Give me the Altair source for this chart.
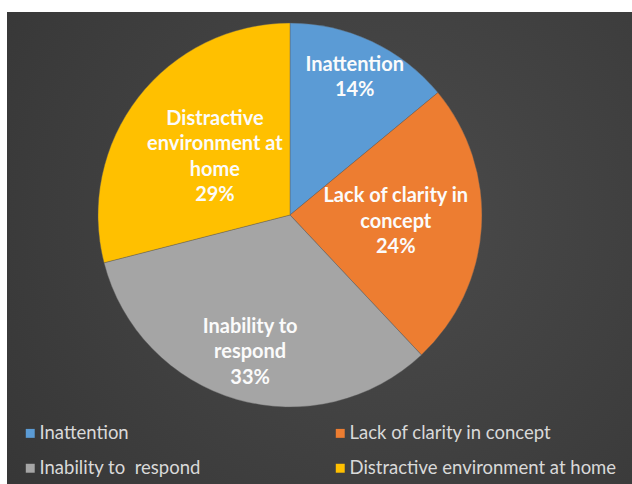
import altair as alt
import pandas as pd

categories = ["Inattention", "Lack of clarity in concept", "Inability to\u00a0 respond", "Distractive environment at home"]
values = [14, 24, 33, 29]
slice_labels = ["Inattention", "Lack of clarity in\nconcept", "Inability to\nrespond", "Distractive\nenvironment at\nhome"]
colors = ["#5B9BD5", "#ED7D31", "#A5A5A5", "#FFC000"]

df = pd.DataFrame({
    "category": categories,
    "value": values,
    "idx": list(range(len(categories))),
    "slabel": [f"{s}\n{v}%" for s, v in zip(slice_labels, values)],
})

# legend is filled column by column: reorder so rows read like the reference
legend_order = [0, 2, 1, 3]
leg_domain = [categories[i] for i in legend_order]
leg_range = [colors[i] for i in legend_order]

# label placement radius per slice (layout only)
label_r = [152, 106, 143, 95]
r_expr = " : ".join(f"datum.idx == {i} ? {r}" for i, r in enumerate(label_r)) + " : 120"

W, H = 625, 472
CX, CY = 283, 203
LH = 25.5

bg = alt.Chart(pd.DataFrame({"a": [0]})).mark_rect(
    fill=alt.Gradient(
        gradient="radial",
        stops=[alt.GradientStop(color="#4b4b4b", offset=0), alt.GradientStop(color="#353535", offset=1)],
        x1=0.6, y1=0.45, r1=0, x2=0.6, y2=0.45, r2=0.8,
    )
).encode(x=alt.value(0), x2=alt.value(W), y=alt.value(0), y2=alt.value(H))

pie = alt.Chart(df).mark_arc(outerRadius=192, stroke="#5a5a5a", strokeWidth=0.4).encode(
    theta=alt.Theta("value:Q", stack=True),
    order=alt.Order("idx:Q", sort="ascending"),
    x=alt.value(CX),
    y=alt.value(CY),
    color=alt.Color(
        "category:N",
        scale=alt.Scale(domain=leg_domain, range=leg_range),
        legend=alt.Legend(
            title=None,
            orient="none",
            legendX=14,
            legendY=412,
            columns=2,
            columnPadding=130,
            rowPadding=16,
            symbolType="square",
            symbolSize=80,
            symbolStrokeWidth=0,
            labelColor="#d9d9d9",
            labelFont="Lato",
            labelFontSize=18.5,
            labelOffset=0,
            labelLimit=400,
        ),
    ),
)

text = alt.Chart(df).transform_window(
    cum="sum(value)", sort=[alt.SortField("idx", order="ascending")]
).transform_joinaggregate(
    total="sum(value)"
).transform_calculate(
    ang="2 * PI * (datum.cum - datum.value / 2) / datum.total",
    lr=r_expr,
    nl="split(datum.slabel, '\\n').length",
).transform_calculate(
    px=f"{CX} + datum.lr * sin(datum.ang)",
    py=f"{CY} - datum.lr * cos(datum.ang) - (datum.nl - 1) * {LH} / 2",
).mark_text(
    lineBreak="\n", lineHeight=LH, align="center", baseline="middle",
    font="Lato", fontWeight="bold", fontSize=20, color="#fbfbfb",
).encode(
    x=alt.X("px:Q", scale=None),
    y=alt.Y("py:Q", scale=None),
    text="slabel:N",
)

chart = alt.layer(bg, pie, text).properties(
    width=W, height=H,
    autosize="none",
    padding={"left": 7, "top": 12, "right": 0, "bottom": 0},
    background="white",
).configure_view(stroke=None)

chart.save("out.html", embed_options={"renderer": "svg", "actions": False})
